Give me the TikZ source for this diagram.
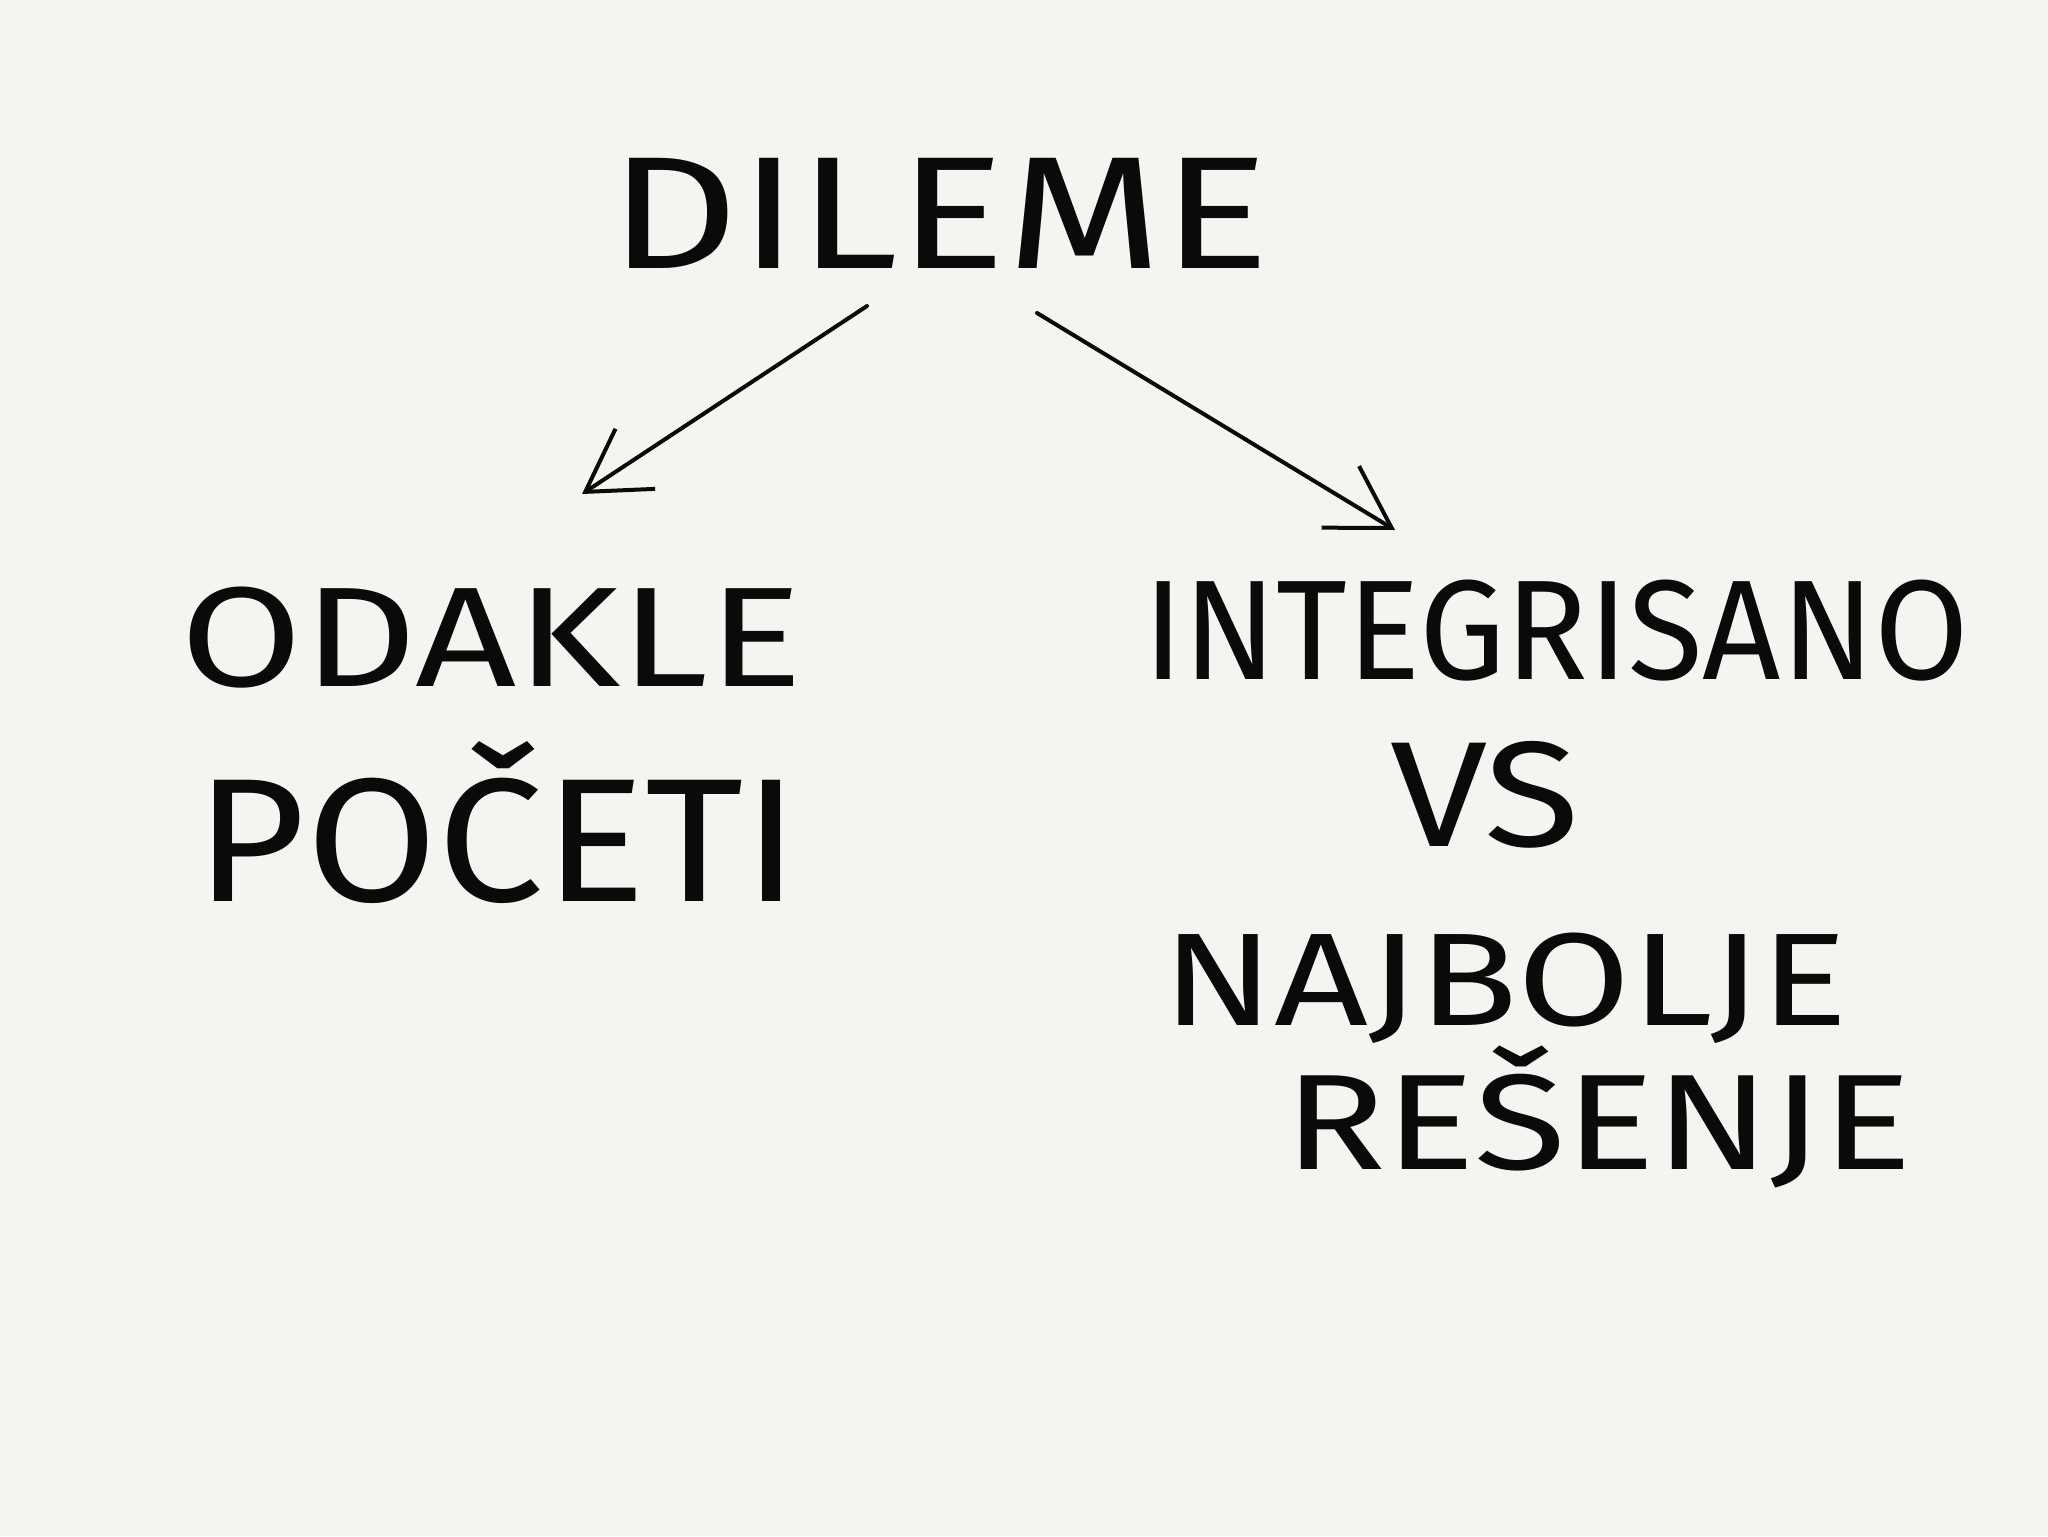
\documentclass[tikz,border=0pt]{standalone}
\usepackage{graphicx}
\usepackage{fontspec}
\setmainfont{Fira Sans}
\usetikzlibrary{arrows.meta}
\definecolor{paper}{RGB}{245,244,240}
\definecolor{ink}{RGB}{10,10,10}
\newcommand{\fitw}[3]{\fontsize{#2}{#2}\selectfont\resizebox{#1}{\height}{#3}}
\tikzset{
  word/.style={inner sep=0pt, text=ink, font=\mdseries, anchor=base},
  arrowline/.style={draw=ink, line width=2pt, line cap=round,
    -{Straight Barb[length=30pt,width=36pt,line width=2pt]}}
}
\begin{document}
\begin{tikzpicture}[x=0.5pt,y=-0.5pt]
\fill[paper] (0,0) rectangle (2048,1536);
\useasboundingbox (0,0) rectangle (2048,1536);
\node[word] (title) at (940,268) {\fitw{330pt}{80pt}{DILEME}};
\node[word] (odakle) at (492,686) {\fitw{311pt}{71pt}{ODAKLE}};
\node[word] (poceti) at (498,901) {\fitw{302pt}{88pt}{POČETI}};
\node[word] (integ) at (1556,679) {\fitw{413pt}{71pt}{INTEGRISANO}};
\node[word] (vs) at (1485,846) {\fitw{95pt}{75pt}{VS}};
\node[word] (najbolje) at (1505,1025) {\fitw{343pt}{66pt}{NAJBOLJE}};
\node[word] (resenje) at (1598,1169) {\fitw{314pt}{68pt}{REŠENJE}};
\coordinate (ls) at (867,306);
\coordinate (le) at (582,494);
\coordinate (rs) at (1037,313);
\coordinate (re) at (1395,530);
\draw[arrowline] (ls) -- (le);
\draw[arrowline] (rs) -- (re);
\end{tikzpicture}
\end{document}
